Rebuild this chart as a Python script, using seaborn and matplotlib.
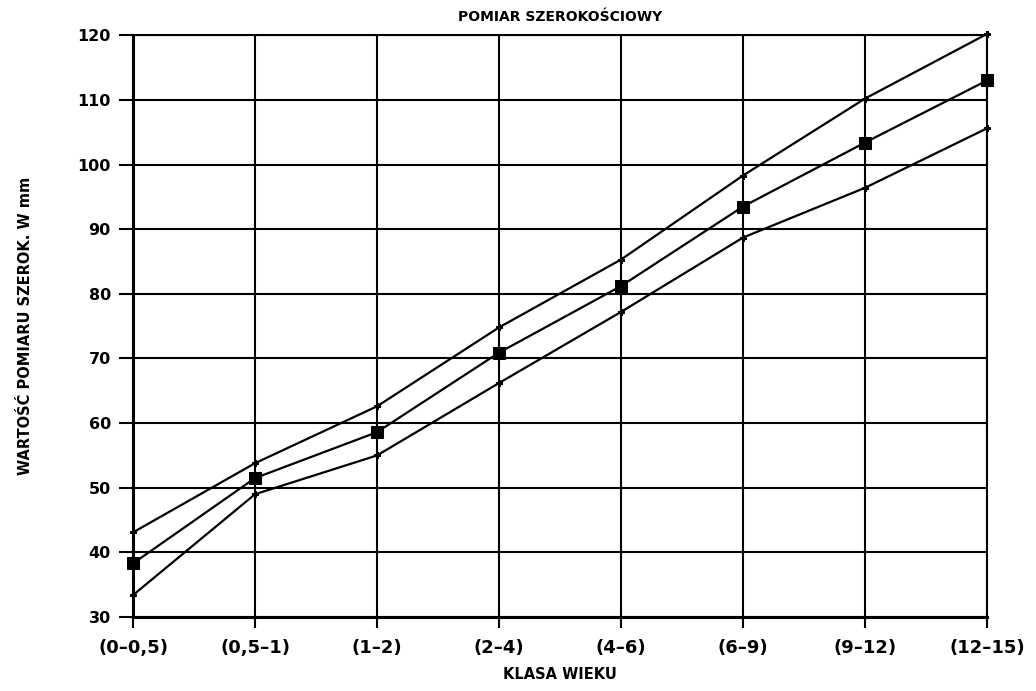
import matplotlib
matplotlib.use("Agg")
import matplotlib.pyplot as plt
import seaborn as sns
import pandas as pd

categories = ["(0\u20130,5)", "(0,5\u20131)", "(1\u20132)", "(2\u20134)", "(4\u20136)", "(6\u20139)", "(9\u201312)", "(12\u201315)"]
upper = [43.1, 53.8, 62.6, 74.8, 85.3, 98.3, 110.2, 120.2]
mean = [38.3, 51.5, 58.6, 70.9, 81.2, 93.5, 103.4, 113.0]
lower = [33.4, 49.0, 55.0, 66.2, 77.2, 88.7, 96.4, 105.6]
y_ticks = [30, 40, 50, 60, 70, 80, 90, 100, 110, 120]

sns.set_theme(style="white")
plt.rcParams['font.family'] = ['DejaVu Sans']
plt.rcParams['text.color'] = 'black'
plt.rcParams['axes.labelcolor'] = 'black'
plt.rcParams['xtick.color'] = 'black'
plt.rcParams['ytick.color'] = 'black'

df = pd.DataFrame({
    "pos": list(range(len(categories))) * 3,
    "value": upper + mean + lower,
    "series": ["upper"] * 8 + ["mean"] * 8 + ["lower"] * 8,
})

fig = plt.figure(figsize=(10.36, 6.91), dpi=100)
ax = fig.add_axes([0.1284, 0.107, 0.8243, 0.842])

sns.lineplot(data=df, x="pos", y="value", hue="series", style="series",
             palette={"upper": "black", "mean": "black", "lower": "black"},
             markers={"upper": "P", "mean": "s", "lower": "P"},
             dashes=False, markersize=5, linewidth=1.6, legend=False, ax=ax,
             markeredgecolor="black", zorder=3)
lines = ax.get_lines()
for ln in lines:
    ln.set_clip_on(False)
    ln.set_markeredgecolor("black")
if len(lines) >= 2:
    lines[1].set_markersize(9)

ax.set_xlim(0, 7)
ax.set_ylim(30, 120)
ax.set_xticks(range(len(categories)))
ax.set_xticklabels(categories, fontsize=13, fontweight="bold")
ax.set_yticks(y_ticks)
ax.set_yticklabels([str(v) for v in y_ticks], fontsize=11.5, fontweight="bold")
ax.grid(True, color="black", linewidth=1.5)
ax.set_axisbelow(True)
for s in ax.spines.values():
    s.set_color("black")
    s.set_linewidth(1.5)
ax.spines["left"].set_linewidth(2.2)
ax.spines["bottom"].set_linewidth(2.2)
ax.tick_params(axis="y", direction="out", length=10, width=1.5, color="black", left=True, pad=6)
ax.tick_params(axis="x", direction="out", length=8, width=1.5, color="black", bottom=True, pad=8)

ax.set_xlabel("KLASA WIEKU", fontsize=10.5, fontweight="bold", labelpad=7)
ax.set_ylabel("WARTOŚĆ POMIARU SZEROK. W mm", fontsize=10.5, fontweight="bold", labelpad=32)
ax.set_title("POMIAR SZEROKOŚCIOWY", fontsize=10, fontweight="bold", pad=10)

fig.savefig("out.png", dpi=100, facecolor="white")
